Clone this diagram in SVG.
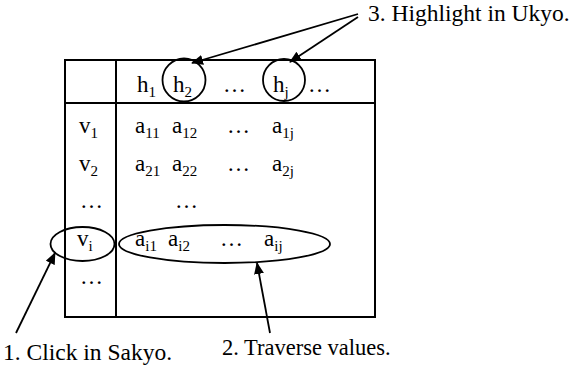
<svg xmlns="http://www.w3.org/2000/svg" width="579" height="365" viewBox="0 0 579 365">
<style>
text{font-family:"Liberation Serif","Times New Roman",serif;font-size:23px;fill:#000}
.s{font-size:15px}
.lb{font-size:23.5px}
.ln{stroke:#000;stroke-width:2;fill:none}
.ov{stroke:#000;stroke-width:1.8;fill:none}
.ar{stroke:#000;stroke-width:1.8;fill:none;marker-end:url(#ah)}
</style>
<defs>
<marker id="ah" viewBox="0 0 12 10" refX="11" refY="5" markerWidth="12" markerHeight="10" markerUnits="userSpaceOnUse" orient="auto">
<path d="M0,0 L12,5 L0,10 Z" fill="#000"/>
</marker>
</defs>
<g id="table">
<rect class="ln" x="65" y="60" width="310" height="257"/>
<line class="ln" x1="116" y1="60" x2="116" y2="317"/>
<line class="ln" x1="65" y1="103" x2="375" y2="103"/>
</g>
<g id="header">
<text x="137" y="92">h<tspan class="s" dy="5">1</tspan></text>
<text x="173" y="92">h<tspan class="s" dy="5">2</tspan></text>
<text x="223" y="92">…</text>
<text x="273" y="92">h<tspan class="s" dy="5">j</tspan></text>
<text x="308" y="92">…</text>
</g>
<g id="row1">
<text x="79" y="133">v<tspan class="s" dy="5">1</tspan></text>
<text x="135" y="133">a<tspan class="s" dy="5">11</tspan></text>
<text x="172" y="133">a<tspan class="s" dy="5">12</tspan></text>
<text x="227" y="133">…</text>
<text x="272" y="133">a<tspan class="s" dy="5">1j</tspan></text>
</g>
<g id="row2">
<text x="79" y="171">v<tspan class="s" dy="5">2</tspan></text>
<text x="135" y="171">a<tspan class="s" dy="5">21</tspan></text>
<text x="172" y="171">a<tspan class="s" dy="5">22</tspan></text>
<text x="227" y="171">…</text>
<text x="272" y="171">a<tspan class="s" dy="5">2j</tspan></text>
</g>
<g id="row3">
<text x="80" y="208">…</text>
<text x="175" y="208">…</text>
</g>
<g id="rowi">
<text x="77" y="246">v<tspan class="s" dy="5">i</tspan></text>
<text x="135" y="246">a<tspan class="s" dy="5">i1</tspan></text>
<text x="168" y="246">a<tspan class="s" dy="5">i2</tspan></text>
<text x="220" y="246">…</text>
<text x="264" y="246">a<tspan class="s" dy="5">ij</tspan></text>
</g>
<g id="row5">
<text x="80" y="284">…</text>
</g>
<g id="highlights">
<circle class="ov" cx="184" cy="80" r="21.5"/>
<circle class="ov" cx="284" cy="80" r="21"/>
<ellipse class="ov" cx="82.5" cy="244" rx="32" ry="17"/>
<ellipse class="ov" cx="224.5" cy="244" rx="105.5" ry="19"/>
</g>
<g id="connectors">
<line class="ar" x1="16" y1="333" x2="55" y2="253"/>
<line class="ar" x1="270" y1="333" x2="257" y2="263"/>
<line class="ar" x1="358" y1="14" x2="192" y2="63"/>
<line class="ar" x1="358" y1="17" x2="290" y2="62"/>
</g>
<g id="labels">
<text class="lb" x="368" y="21">3. Highlight in Ukyo.</text>
<text class="lb" x="3" y="360">1. Click in Sakyo.</text>
<text x="222" y="355" style="font-size:22.5px">2. Traverse values.</text>
</g>
</svg>
